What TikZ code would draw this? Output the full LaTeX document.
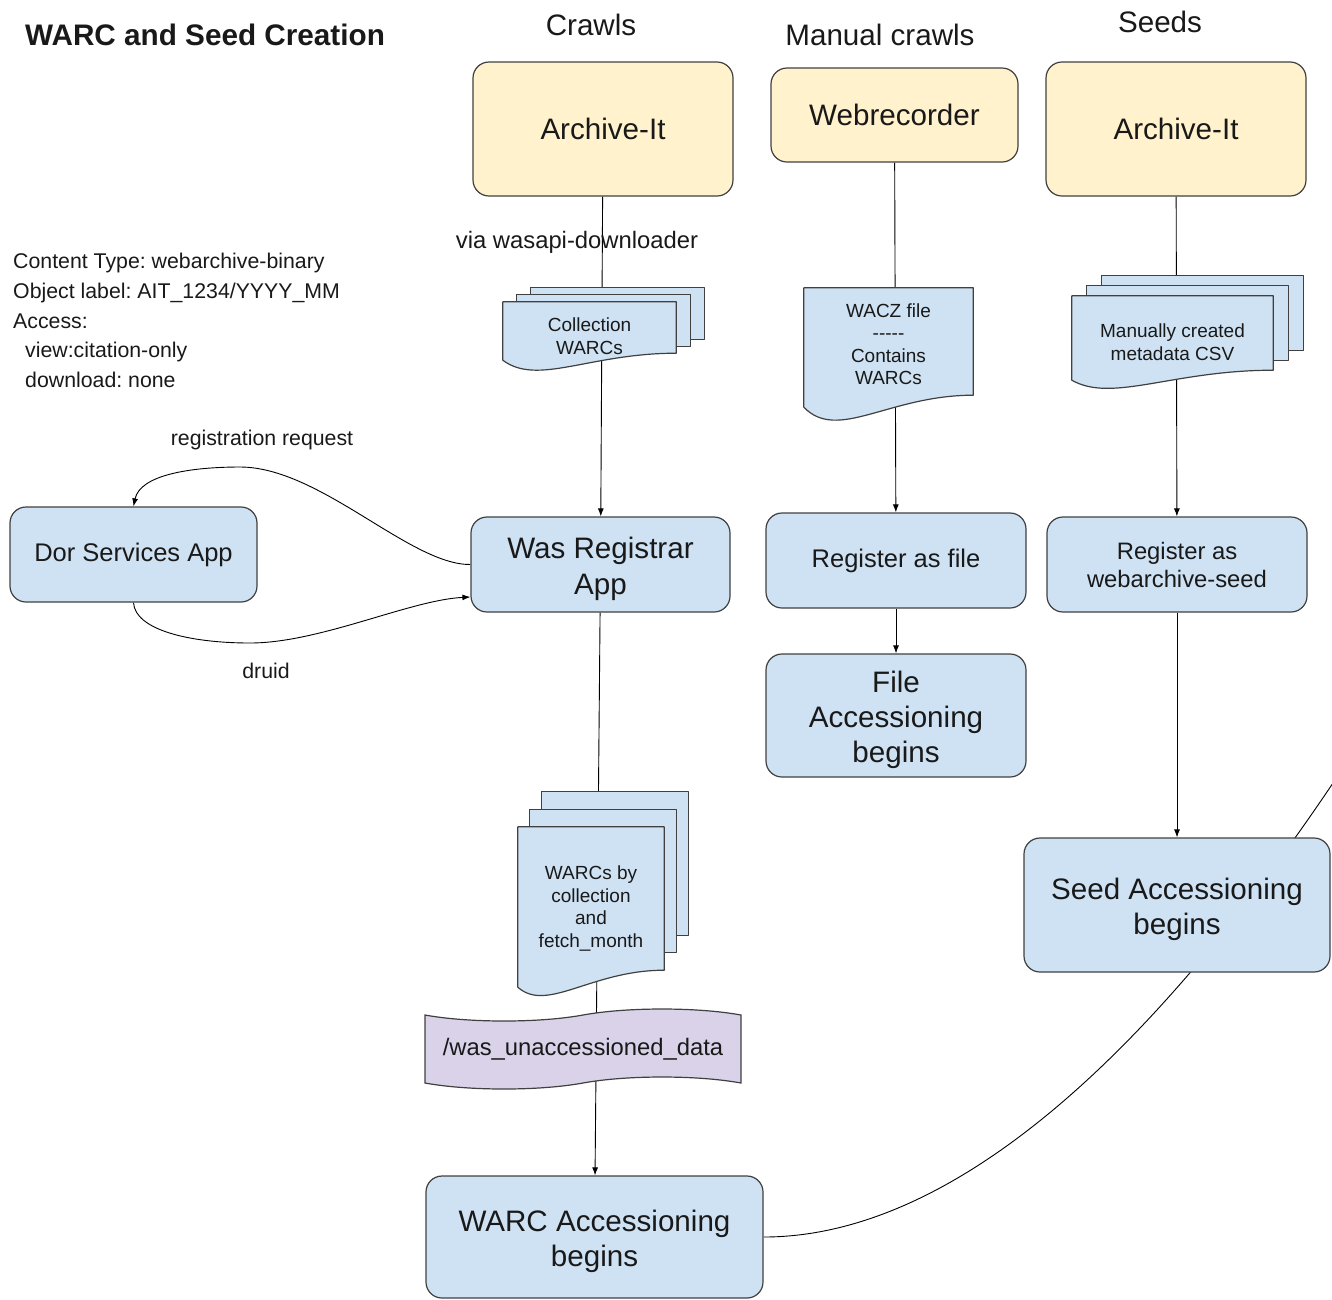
\documentclass[tikz,border=0pt]{standalone}
\usepackage{fontspec}
\setmainfont{Liberation Sans}
\usetikzlibrary{arrows.meta, calc, shapes.symbols}

\definecolor{boxblue}{HTML}{CFE2F3}
\definecolor{srcyellow}{HTML}{FFF2CC}
\definecolor{tapepurple}{HTML}{D9D2E9}
\definecolor{edgegray}{HTML}{404040}

\pgfdeclarelayer{back}
\pgfdeclarelayer{paper}
\pgfsetlayers{back,paper,main}

% sheet with a wavy bottom: node, right raise, left raise, dip
\newcommand\docshape[4]{%
  \path[docfill] (#1.north west) -- (#1.north east) -- ([yshift=#2]#1.south east)
    .. controls ($(#1.south west)!0.5!(#1.south east)+(0pt,#2)$)
    and ($(#1.south west)!0.2!(#1.south east)-(0pt,#4)$) .. ([yshift=#3]#1.south west) -- cycle;}
% two more sheets behind: node, x step, y step, right raise
\newcommand\docstack[4]{%
  \foreach \k in {2,1}
    \path[docfill] ([shift={(\k*#2,\k*#3)}]#1.north west)
      rectangle ([shift={(\k*#2,\k*#3+#4)}]#1.south east);}
% taller first line, so that the lines sit a little lower in the box
\newcommand\firstline{\rule{0pt}{30pt}}

\begin{document}
\frenchspacing
\begin{tikzpicture}[
        x = 1pt, y = -1pt,
        >= {Latex[length = 8pt, width = 6pt]},
        every node/.style = {inner sep = 0pt, text = black!90},
        fbig/.style = {font = \fontsize{29.6}{35}\selectfont},
        fstep/.style = {font = \fontsize{25.5}{30}\selectfont},
        fmid/.style = {font = \fontsize{23.8}{28}\selectfont},
        fnote/.style = {font = \fontsize{21.3}{29.75}\selectfont},
        fsmall/.style = {font = \fontsize{19}{22.5}\selectfont},
        box/.style = {draw = edgegray, line width = 1.2pt, rounded corners = 16pt,
                      fill = boxblue, align = center},
        src/.style = {box, fill = srcyellow},
        doc/.style = {fsmall, align = center},
        docfill/.style = {draw = edgegray, line width = 1.2pt, fill = boxblue, line join = round},
        link/.style = {draw = black, line width = 0.9pt}
    ]
      \useasboundingbox (0,0) rectangle (1332,1299);

      % headings
      \node[anchor = west, font = \bfseries\fontsize{29.7}{36}\selectfont] (title) at (25,35) {WARC and Seed Creation};
      \node[fbig] (hcrawls) at (591,25) {Crawls};
      \node[fbig] (hmanual) at (880,35) {Manual crawls};
      \node[fbig] (hseeds) at (1160,22) {Seeds};

      % sources
      \node[src, fbig, minimum width = 260pt, minimum height = 134pt] (ait) at (603,129) {\raisebox{-2pt}{Archive-It}};
      \node[src, fbig, minimum width = 247pt, minimum height = 94pt] (webrec) at (894.5,115) {\raisebox{-2pt}{Webrecorder}};
      \node[src, fbig, minimum width = 260pt, minimum height = 134pt] (aitseed) at (1176,129) {\raisebox{-2pt}{Archive-It}};

      % documents
      \node[doc, minimum width = 173pt, minimum height = 68pt] (coll) at (589.5,336) {Collection\\WARCs};
      \node[doc, minimum width = 169pt, minimum height = 112pt] (wacz) at (888.5,344) {WACZ file\\-{}-{}-{}-{}-\\Contains\\WARCs};
      \node[doc, minimum width = 201pt, minimum height = 92pt] (csv) at (1172.5,342) {Manually created\\metadata CSV};
      \node[doc, minimum width = 146pt, minimum height = 163pt] (bymonth) at (591,908.5) {WARCs by\\collection\\and\\fetch\_month};

      % steps
      \node[box, fstep, minimum width = 247pt, minimum height = 95pt] (dor) at (133.5,554.5) {Dor Services App};
      \node[box, fbig, font = \fontsize{29.6}{36}\selectfont, minimum width = 259pt, minimum height = 95pt] (reg) at (600.5,564.5) {\firstline Was Registrar\\App};
      \node[box, fstep, minimum width = 260pt, minimum height = 95pt] (regfile) at (896,560.5) {Register as file};
      \node[box, fmid, minimum width = 260pt, minimum height = 95pt] (regseed) at (1177,564.5) {Register as\\webarchive-seed};
      \node[box, fbig, minimum width = 260pt, minimum height = 123pt] (fileacc) at (896,715.5) {\firstline File\\Accessioning\\begins};
      \node[box, fbig, minimum width = 306pt, minimum height = 134pt] (seedacc) at (1177,905) {\firstline Seed Accessioning\\begins};
      \node[tape, draw = edgegray, line width = 1.2pt, fill = tapepurple, fmid, minimum width = 316pt,
            minimum height = 80pt, tape bend height = 12pt] (unacc) at (583,1049) {/was\_unaccessioned\_data};
      \node[box, fbig, minimum width = 337pt, minimum height = 122pt] (warc) at (594.5,1237) {\firstline WARC Accessioning\\begins};

      % notes
      \node[fnote, anchor = north west, align = left] (meta) at (13,253)
        {Content Type: webarchive-binary\\Object label: AIT\_1234/YYYY\_MM\\Access:\\
         \hspace*{12pt}view:citation-only\\\hspace*{12pt}download: none};
      \node[fmid] (lwasapi) at (577,242) {via wasapi-downloader};
      \node[fnote] (lrequest) at (262,440) {registration request};
      \node[fnote] (ldruid) at (266,671) {druid};

      \begin{pgfonlayer}{paper}
        \docstack{coll}{14pt}{7pt}{17pt}
        \docshape{coll}{17pt}{10pt}{16pt}
        \docshape{wacz}{5pt}{-7pt}{42pt}
        \docstack{csv}{15pt}{10pt}{18pt}
        \docshape{csv}{18pt}{8pt}{15pt}
        \docstack{bymonth}{12pt}{17.5pt}{20pt}
        \docshape{bymonth}{20pt}{3pt}{23pt}
      \end{pgfonlayer}

      \begin{pgfonlayer}{back}
        \path[->, link]
          (ait) edge (reg)
          (webrec) edge (regfile)
          (aitseed) edge (regseed)
          (reg) edge (warc)
          (regfile) edge (fileacc)
          (regseed) edge (seedacc);
        \draw[->, link] (reg.west) .. controls (410,565) and (320,467) .. (240,467)
          .. controls (190,467) and (140,475) .. (dor.north);
        \draw[->, link] (dor.south) .. controls (135,630) and (190,643) .. (250,643)
          .. controls (320,643) and (410,600) .. ([yshift=-32.5pt]reg.west);
        \coordinate (offpage) at (1345,765);
        \draw[link] (warc.east) .. controls (950,1237) and (1150,1060) .. (offpage);
      \end{pgfonlayer}
    \end{tikzpicture}
\end{document}
